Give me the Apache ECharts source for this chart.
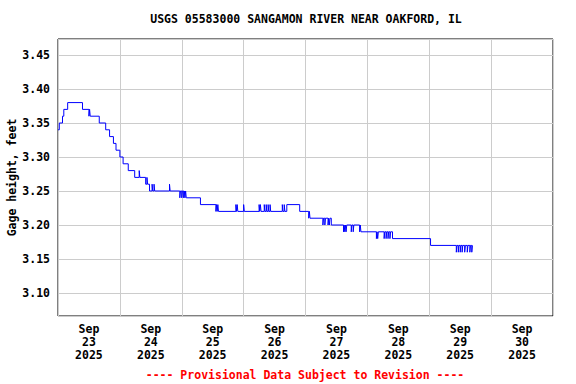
<!DOCTYPE html>
<html><head><meta charset="utf-8">
<script src="https://cdn.jsdelivr.net/npm/echarts@6/dist/echarts.min.js"></script>
<style>html,body{margin:0;padding:0;background:#fff}#c{width:576px;height:384px}</style>
</head><body><div id="c"></div>
<script>
const titleText = 'USGS 05583000 SANGAMON RIVER NEAR OAKFORD, IL';
const footerText = '---- Provisional Data Subject to Revision ----';
const yAxisName = 'Gage height, feet';
const monthLabel = 'Sep';
const yearLabel = '2025';
const dayLabels = ['23','24','25','26','27','28','29','30'];
// hours since Sep 23 2025 00:00 at which the gage height changed
const hours = [0,0.5,1.75,2.25,3.75,9.5,12,12.25,12.5,16,18.5,20,21.5,22.5,24,25.25,27.25,29.75,31.5,31.75,
  34,34.5,34.75,35.5,36.5,36.75,37.25,37.5,43.25,43.5,47.25,47.5,48,48.25,48.75,49,49.25,49.5,49.75,55.25,
  61.25,61.5,61.75,62,62.25,69,69.25,69.5,69.75,72,72.25,78,78.25,78.5,78.75,80,80.25,80.75,81,81.5,81.75,82.25,82.5,
  87,87.25,87.75,88,88.75,93.75,97.25,97.5,97.75,102.75,103,103.5,103.75,104.75,105,105.25,105.5,106,
  110.75,111,111.25,111.5,111.75,112,113.75,114,114.5,114.75,117,117.25,117.5,
  123.5,123.75,124,124.25,126.5,126.75,127.25,127.5,128,128.25,128.75,129,129.75,144.5,
  154.5,154.75,155.25,155.5,156,156.25,156.75,157,157.75,158,158.75,159,159.75,160,160.5,160.75];
const gageHeight = [3.34,3.35,3.36,3.37,3.38,3.37,3.36,3.37,3.36,3.35,3.34,3.33,3.32,3.31,3.30,3.29,3.28,3.27,3.28,3.27,
  3.26,3.27,3.26,3.25,3.26,3.25,3.26,3.25,3.26,3.25,3.24,3.25,3.24,3.25,3.24,3.25,3.24,3.25,3.24,3.23,
  3.22,3.23,3.22,3.23,3.22,3.23,3.22,3.23,3.22,3.23,3.22,3.23,3.22,3.23,3.22,3.23,3.22,3.23,3.22,3.23,3.22,3.23,3.22,
  3.23,3.22,3.23,3.22,3.23,3.22,3.21,3.22,3.21,3.20,3.21,3.20,3.21,3.20,3.21,3.20,3.21,3.20,
  3.19,3.20,3.19,3.20,3.19,3.20,3.19,3.20,3.19,3.20,3.19,3.20,3.19,
  3.18,3.19,3.18,3.19,3.18,3.19,3.18,3.19,3.18,3.19,3.18,3.19,3.18,3.17,
  3.16,3.17,3.16,3.17,3.16,3.17,3.16,3.17,3.16,3.17,3.16,3.17,3.16,3.17,3.16,3.17];

const FONT = '"DejaVu Sans Mono", "Liberation Mono", monospace';
const chart = echarts.init(document.getElementById('c'), null, {renderer: 'svg'});
chart.setOption({
  animation: false,
  backgroundColor: '#ffffff',
  grid: {left: 58, right: 23, top: 39, bottom: 68, containLabel: false, outerBoundsMode: 'none',
    show: true, borderColor: '#000', borderWidth: 1, backgroundColor: '#fff'},
  graphic: [
    {type: 'text', x: 306, y: 19, style: {text: titleText, x: 0, y: 0, textAlign: 'center', textVerticalAlign: 'middle',
      font: 'bold 11.5px ' + FONT, fill: '#000'}},
    {type: 'text', x: 305, y: 375, style: {text: footerText, x: 0, y: 0, textAlign: 'center', textVerticalAlign: 'middle',
      font: 'bold 11.5px ' + FONT, fill: '#ff0000'}}
  ],
  xAxis: [
    {type: 'value', min: 0, max: 192, interval: 12, position: 'bottom',
      axisLine: {show: false}, axisTick: {show: false}, splitLine: {show: false},
      axisLabel: {show: true, margin: 6, color: '#000', fontFamily: FONT, fontWeight: 'bold', fontSize: 11.5, lineHeight: 13,
        showMinLabel: true, showMaxLabel: true,
        formatter: function (v) {
          if (v % 24 !== 12) return '';
          const i = (v - 12) / 24;
          return monthLabel + '\n' + dayLabels[i] + '\n' + yearLabel;
        }}},
    {type: 'value', min: 0, max: 192, interval: 24, position: 'top',
      axisLine: {show: false}, axisTick: {show: false}, axisLabel: {show: false},
      splitLine: {show: true, lineStyle: {color: '#cccccc', width: 1}}}
  ],
  yAxis: {type: 'value', min: 3.0662, max: 3.4735, splitNumber: 8,
    name: yAxisName, nameLocation: 'middle', nameRotate: 90, nameGap: 40, nameMoveOverlap: false,
    nameTextStyle: {color: '#000', fontFamily: FONT, fontWeight: 'bold', fontSize: 11.5},
    axisLine: {show: false}, axisTick: {show: false},
    axisLabel: {margin: 8, color: '#000', fontFamily: FONT, fontWeight: 'bold', fontSize: 11.5,
      showMinLabel: false, showMaxLabel: false,
      formatter: function (v) { return v.toFixed(2); }},
    splitLine: {show: true, lineStyle: {color: '#cccccc', width: 1}}},
  series: [{
    type: 'line', xAxisIndex: 0, step: 'end', showSymbol: false, symbol: 'none',
    lineStyle: {color: '#0000ff', width: 1}, itemStyle: {color: '#0000ff'},
    data: hours.map(function (h, i) { return [h, gageHeight[i]]; })
  }]
});
</script></body></html>
